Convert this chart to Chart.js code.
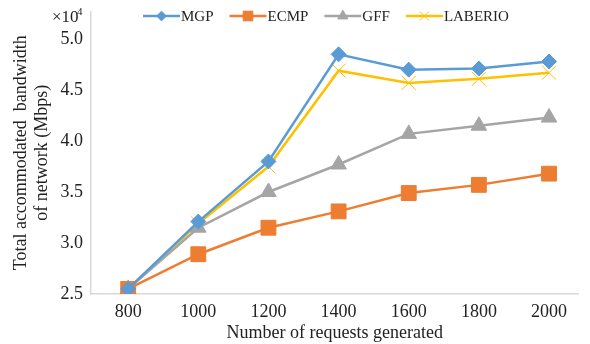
<!DOCTYPE html>
<html>
<head>
<meta charset="utf-8">
<script src="https://cdn.jsdelivr.net/npm/chart.js@4"></script>
<style>
  html, body { margin: 0; padding: 0; background: #fff; }
  #wrap { width: 590px; height: 344px; }
</style>
</head>
<body>
<div id="wrap"><canvas id="chart"></canvas></div>
<script>
// values are in units of 10^4 Mbps
const requests = [800, 1000, 1200, 1400, 1600, 1800, 2000];
const mgp     = [2.55, 3.21, 3.80, 4.85, 4.70, 4.71, 4.78];
const ecmp    = [2.55, 2.89, 3.15, 3.31, 3.49, 3.57, 3.68];
const gff     = [2.55, 3.15, 3.50, 3.77, 4.07, 4.15, 4.23];
const laberio = [2.55, 3.19, 3.75, 4.69, 4.57, 4.61, 4.67];
const yTicks  = [2.5, 3.0, 3.5, 4.0, 4.5, 5.0];

const FONT = '"Liberation Serif", "Times New Roman", serif';

function series(label, values, color, style, radius) {
    return {
        label,
        data: values.map((v, i) => ({x: requests[i], y: v})),
        borderColor: color,
        backgroundColor: color,
        pointBackgroundColor: color,
        pointBorderColor: color,
        pointBorderWidth: 1,
        borderWidth: 2.5,
        pointStyle: style,
        pointRadius: radius,
        tension: 0
    };
}

const datasets = [
    series('MGP', mgp, '#5b9bd5', 'rectRot', 7.5),
    series('ECMP', ecmp, '#ed7d31', 'rect', 10.5),
    series('GFF', gff, '#a5a5a5', 'triangle', 9),
    series('LABERIO', laberio, '#ffc000', 'crossRot', 10)
];

// legend with line + marker, and the x10^4 label
const extras = {
    id: 'extras',
    afterDraw(chart) {
        const ctx = chart.ctx;
        ctx.save();
        ctx.font = '15px ' + FONT;
        ctx.textBaseline = 'middle';
        let x = 143;
        const y = 16;
        chart.data.datasets.forEach(ds => {
            ctx.strokeStyle = ds.borderColor;
            ctx.fillStyle = ds.borderColor;
            ctx.lineWidth = 2.5;
            ctx.beginPath();
            ctx.moveTo(x, y);
            ctx.lineTo(x + 37, y);
            ctx.stroke();
            ctx.lineWidth = 1;
            Chart.helpers.drawPoint(ctx, {
                pointStyle: ds.pointStyle,
                radius: ds.pointRadius * 0.65,
                borderWidth: 1,
                rotation: 0
            }, x + 18.5, y);
            ctx.fillStyle = '#222';
            ctx.textAlign = 'left';
            ctx.fillText(ds.label, x + 38, y + 1);
            x += 38 + ctx.measureText(ds.label).width + 16;
        });
        ctx.fillStyle = '#222';
        ctx.font = '17px ' + FONT;
        ctx.textAlign = 'left';
        ctx.fillText('\u00d710', 52, 18);
        ctx.font = '11px ' + FONT;
        ctx.fillText('4', 77, 12);
        ctx.restore();
    }
};

new Chart(document.getElementById('chart'), {
    type: 'line',
    data: {datasets},
    plugins: [extras],
    options: {
        responsive: true,
        maintainAspectRatio: false,
        animation: false,
        layout: {padding: {top: 10, right: 0, bottom: 0, left: 0}},
        plugins: {legend: {display: false}, tooltip: {enabled: false}},
        scales: {
            x: {
                type: 'linear',
                min: 694,
                max: 2084,
                afterBuildTicks: s => { s.ticks = requests.map(v => ({value: v})); },
                afterFit: s => { s.height = 50; s.paddingLeft = 0; s.paddingRight = 0; },
                grid: {drawOnChartArea: false, drawTicks: false},
                border: {color: '#d9d9d9', width: 1.5},
                ticks: {
                    color: '#222', padding: 7,
                    font: {family: FONT, size: 18},
                    callback: v => String(v)
                },
                title: {
                    display: true, text: 'Number of requests generated',
                    color: '#222', font: {family: FONT, size: 18},
                    padding: {top: 0, bottom: 0}
                }
            },
            y: {
                min: 2.5,
                max: 5.27,
                afterBuildTicks: s => { s.ticks = yTicks.map(v => ({value: v})); },
                afterFit: s => { s.width = 91; s.paddingTop = 0; s.paddingBottom = 0; },
                grid: {drawOnChartArea: false, drawTicks: false},
                border: {color: '#d9d9d9', width: 1.5},
                ticks: {
                    color: '#222', padding: 8,
                    font: {family: FONT, size: 18},
                    callback: v => v.toFixed(1)
                },
                title: {
                    display: true,
                    text: ['Total accommodated  bandwidth', 'of network (Mbps)'],
                    color: '#222', font: {family: FONT, size: 18, lineHeight: 1.15},
                    padding: {top: 11, bottom: 0}
                }
            }
        }
    }
});
</script>
</body>
</html>
